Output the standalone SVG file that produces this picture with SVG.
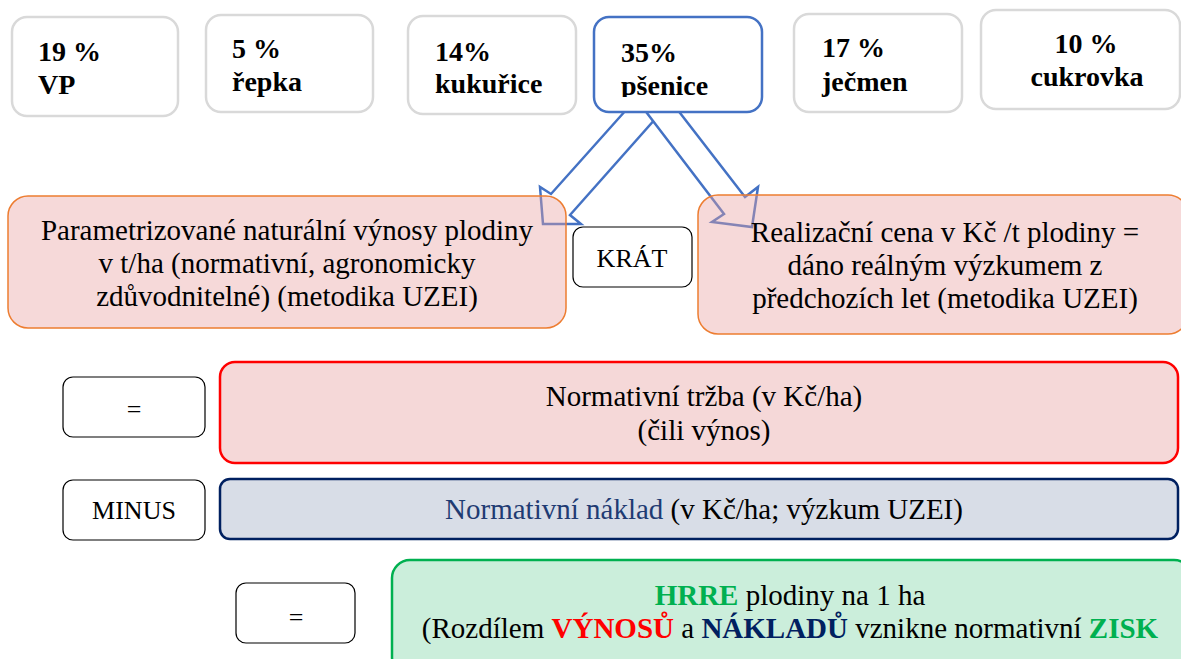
<svg xmlns="http://www.w3.org/2000/svg" width="1181" height="659" viewBox="0 0 1181 659">
<style>
.t{font-family:"Liberation Serif","Times New Roman",serif;fill:#000}
.b{font-weight:bold;font-size:28px}
.m{font-size:29px}
.s{font-size:26px}
.c{text-anchor:middle}
.gray{fill:#fff;stroke:#d9d9d9;stroke-width:2.5}
.op{fill:#fff;stroke:#000;stroke-width:1.2}
.orange{fill:#e8a0a0;fill-opacity:0.4;stroke:#ed7d31;stroke-width:1.5}
.arrow{fill:#fff;stroke:#4472c4;stroke-width:2.5;stroke-linejoin:miter}
</style>
<defs>
<clipPath id="clipPs"><rect x="594" y="17" width="168" height="80"/></clipPath>
</defs>
<g id="connectors">
<polygon class="arrow" points="635,100 551,194 540,187 543,224 581,224 570,215 672,100"/>
<polygon class="arrow" points="637,100 724,214 712,222 752,227 758,187 745,197 670,100"/>
</g>
<g id="n-vp">
<rect class="gray" x="12" y="17" width="166" height="99" rx="15"/>
<text class="t b" x="38" y="61">19 %</text>
<text class="t b" x="38" y="94">VP</text>
</g>
<g id="n-repka">
<rect class="gray" x="206" y="15" width="167" height="97" rx="15"/>
<text class="t b" x="232" y="58">5 %</text>
<text class="t b" x="232" y="91">řepka</text>
</g>
<g id="n-kukurice">
<rect class="gray" x="408" y="16" width="168" height="98" rx="15"/>
<text class="t b" x="435" y="61">14%</text>
<text class="t b" x="435" y="93" font-size="29">kukuřice</text>
</g>
<g id="n-psenice">
<rect x="594" y="17" width="168" height="95" rx="15" fill="#fff" stroke="#4472c4" stroke-width="2.5"/>
<g clip-path="url(#clipPs)">
<text class="t b" x="621" y="62">35%</text>
<text class="t b" x="621" y="95">pšenice</text>
</g>
</g>
<g id="n-jecmen">
<rect class="gray" x="794" y="14" width="168" height="98" rx="15"/>
<text class="t b" x="822" y="57">17 %</text>
<text class="t b" x="822" y="91">ječmen</text>
</g>
<g id="n-cukrovka">
<rect class="gray" x="981" y="10" width="199" height="99" rx="15"/>
<text class="t b c" x="1086" y="53">10 %</text>
<text class="t b c" x="1087" y="86">cukrovka</text>
</g>
<g id="n-vynosy">
<rect class="orange" x="8" y="196" width="558" height="132" rx="20"/>
<text class="t m c" x="287" y="240">Parametrizované naturální výnosy plodiny</text>
<text class="t m c" x="287" y="273">v t/ha (normativní, agronomicky</text>
<text class="t m c" x="287" y="306">zdůvodnitelné) (metodika UZEI)</text>
</g>
<g id="n-krat">
<rect class="op" x="573" y="227" width="119" height="60" rx="10"/>
<text class="t s c" x="632" y="267">KRÁT</text>
</g>
<g id="n-cena">
<rect class="orange" x="698" y="195" width="490" height="139" rx="20"/>
<text class="t m c" x="945" y="242">Realizační cena v Kč /t plodiny =</text>
<text class="t m c" x="945" y="275">dáno reálným výzkumem z</text>
<text class="t m c" x="945" y="308">předchozích let (metodika UZEI)</text>
</g>
<g id="n-eq1">
<rect class="op" x="63" y="377" width="142" height="60" rx="10"/>
<text class="t s c" x="134" y="418">=</text>
</g>
<g id="n-trzba">
<rect x="220" y="362" width="958" height="101" rx="15" fill="#f5d8d8" stroke="#ff0000" stroke-width="2.5"/>
<text class="t m c" x="704" y="406">Normativní tržba (v Kč/ha)</text>
<text class="t m c" x="704" y="440">(čili výnos)</text>
</g>
<g id="n-minus">
<rect class="op" x="63" y="480" width="142" height="60" rx="10"/>
<text class="t s c" x="134" y="519">MINUS</text>
</g>
<g id="n-naklad">
<rect x="220" y="479" width="958" height="60" rx="10" fill="#d8dde7" stroke="#002060" stroke-width="2.5"/>
<text class="t m c" x="704" y="519"><tspan fill="#1f3b73">Normativní náklad</tspan> (v Kč/ha; výzkum UZEI)</text>
</g>
<g id="n-eq2">
<rect class="op" x="236" y="583" width="119" height="60" rx="10"/>
<text class="t s c" x="296" y="626">=</text>
</g>
<g id="n-hrre">
<rect x="392" y="560" width="800" height="115" rx="18" fill="#cbeedb" stroke="#00b050" stroke-width="2.5"/>
<text class="t m c" x="790" y="605"><tspan fill="#00b050" font-weight="bold">HRRE</tspan> plodiny na 1 ha</text>
<text class="t m c" x="790" y="638">(Rozdílem <tspan fill="#ff0000" font-weight="bold">VÝNOSŮ</tspan> a <tspan fill="#002060" font-weight="bold">NÁKLADŮ</tspan> vznikne normativní <tspan fill="#00b050" font-weight="bold">ZISK</tspan></text>
</g>
</svg>
